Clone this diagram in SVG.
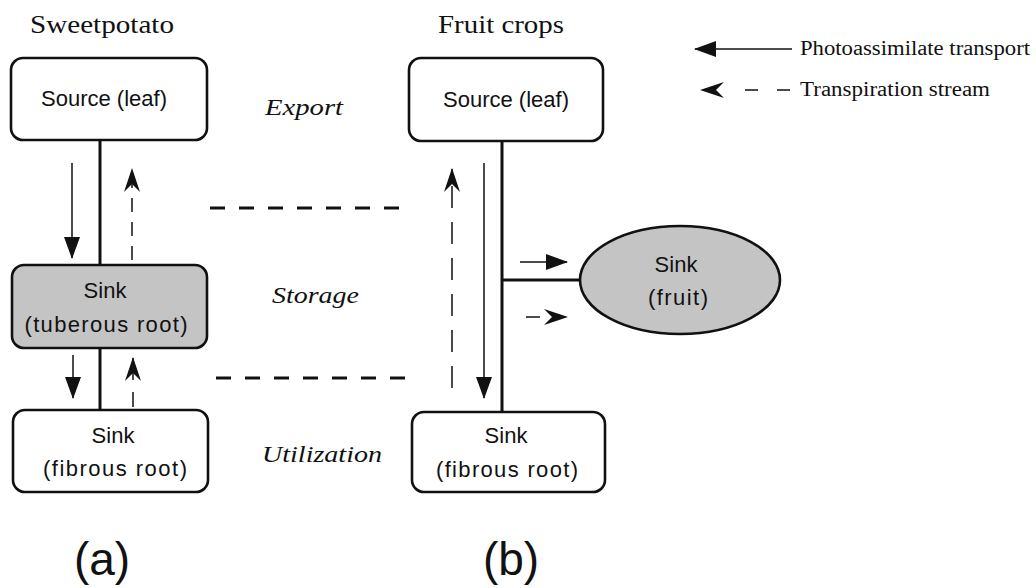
<svg xmlns="http://www.w3.org/2000/svg" width="1036" height="588" viewBox="0 0 1036 588">
<style>
.box{fill:#fff;stroke:#111;stroke-width:2.6}
.sinkfill{fill:#c4c4c4;stroke:#111;stroke-width:2.6}
.sans{font-family:"Liberation Sans",Arial,sans-serif;font-size:22px;fill:#111}
.big{font-family:"Liberation Sans",Arial,sans-serif;font-size:46px;fill:#111}
.serif{font-family:"Liberation Serif","Times New Roman",serif;font-size:26px;fill:#111}
.ital{font-family:"Liberation Serif","Times New Roman",serif;font-size:24px;font-style:italic;fill:#111}
.leg{font-family:"Liberation Serif","Times New Roman",serif;font-size:20px;fill:#111}
.thick{stroke:#111;stroke-width:3;fill:none}
.thin{stroke:#111;stroke-width:1.5;fill:none}
.sep{stroke:#111;stroke-width:3;fill:none;stroke-dasharray:15 14}
</style>
<defs>
<marker id="solid" markerUnits="userSpaceOnUse" viewBox="0 0 22 16" markerWidth="22" markerHeight="16" refX="21" refY="8" orient="auto">
<path d="M0,0 L22,8 L0,16 Z" fill="#111"/>
</marker>
<marker id="barb" markerUnits="userSpaceOnUse" viewBox="0 0 24 16" markerWidth="24" markerHeight="16" refX="23" refY="8" orient="auto">
<path d="M0,0 L24,8 L0,16 L8,8 Z" fill="#111"/>
</marker>
</defs>
<rect width="1036" height="588" fill="#fff"/>

<g id="titles">
<text class="serif" x="30" y="33" textLength="144" lengthAdjust="spacingAndGlyphs">Sweetpotato</text>
<text class="serif" x="438" y="33" textLength="126" lengthAdjust="spacingAndGlyphs">Fruit crops</text>
</g>

<g id="stage-labels">
<text class="ital" x="265" y="115" textLength="78" lengthAdjust="spacingAndGlyphs">Export</text>
<text class="ital" x="272" y="303" textLength="87" lengthAdjust="spacingAndGlyphs">Storage</text>
<text class="ital" x="262" y="462" textLength="120" lengthAdjust="spacingAndGlyphs">Utilization</text>
</g>

<g id="legend">
<line class="thin" x1="792" y1="49" x2="695" y2="49" marker-end="url(#solid)"/>
<text class="leg" x="800" y="55" textLength="230" lengthAdjust="spacingAndGlyphs">Photoassimilate transport</text>
<line class="thin" x1="790" y1="90" x2="701" y2="90" stroke-dasharray="13 19 13 100" marker-end="url(#barb)"/>
<text class="leg" x="800" y="96" textLength="190" lengthAdjust="spacingAndGlyphs">Transpiration stream</text>
</g>

<g id="connectors">
<line class="thick" x1="100" y1="140" x2="100" y2="265"/>
<line class="thick" x1="100" y1="348" x2="100" y2="410"/>
<line class="thin" x1="72" y1="163" x2="72" y2="258" marker-end="url(#solid)"/>
<line class="thin" x1="132" y1="260" x2="132" y2="169" stroke-dasharray="14 10" marker-end="url(#barb)"/>
<line class="thin" x1="73" y1="355" x2="73" y2="398" marker-end="url(#solid)"/>
<line class="thin" x1="133" y1="407" x2="133" y2="358" stroke-dasharray="15 12 30" marker-end="url(#barb)"/>
<line class="sep" x1="210" y1="208" x2="399" y2="208"/>
<line class="sep" x1="216" y1="378" x2="405" y2="378"/>
<line class="thick" x1="502" y1="141" x2="502" y2="412"/>
<line class="thick" x1="502" y1="280" x2="581" y2="280"/>
<line class="thin" x1="484" y1="163" x2="484" y2="398" marker-end="url(#solid)"/>
<line class="thin" x1="452" y1="388" x2="452" y2="169" stroke-dasharray="22 14" marker-end="url(#barb)"/>
<line class="thin" x1="520" y1="262" x2="567" y2="262" marker-end="url(#solid)"/>
<line class="thin" x1="526" y1="317" x2="567" y2="317" stroke-dasharray="14 40" marker-end="url(#barb)"/>
</g>

<g id="sp-source">
<rect class="box" x="11" y="58" width="196" height="82" rx="12"/>
<text class="sans" x="104" y="106" text-anchor="middle">Source (leaf)</text>
</g>
<g id="sp-tuberous">
<rect class="sinkfill" x="12" y="265" width="195" height="83" rx="12"/>
<text class="sans" x="105" y="298" text-anchor="middle">Sink</text>
<text class="sans" x="106" y="332" text-anchor="middle" textLength="163" lengthAdjust="spacing">(tuberous root)</text>
</g>
<g id="sp-fibrous">
<rect class="box" x="13" y="410" width="195" height="82" rx="12"/>
<text class="sans" x="113" y="443" text-anchor="middle">Sink</text>
<text class="sans" x="115" y="476" text-anchor="middle" textLength="144" lengthAdjust="spacing">(fibrous root)</text>
</g>
<g id="fc-source">
<rect class="box" x="409" y="58" width="194" height="83" rx="12"/>
<text class="sans" x="506" y="107" text-anchor="middle">Source (leaf)</text>
</g>
<g id="fc-fruit">
<ellipse class="sinkfill" cx="680" cy="280" rx="100" ry="54"/>
<text class="sans" x="676" y="272" text-anchor="middle">Sink</text>
<text class="sans" x="678" y="305" text-anchor="middle" textLength="60" lengthAdjust="spacing">(fruit)</text>
</g>
<g id="fc-fibrous">
<rect class="box" x="412" y="412" width="193" height="80" rx="12"/>
<text class="sans" x="506" y="443" text-anchor="middle">Sink</text>
<text class="sans" x="507" y="477" text-anchor="middle" textLength="142" lengthAdjust="spacing">(fibrous root)</text>
</g>

<g id="panel-labels">
<text class="big" x="102" y="575" text-anchor="middle">(a)</text>
<text class="big" x="511" y="575" text-anchor="middle">(b)</text>
</g>
</svg>
